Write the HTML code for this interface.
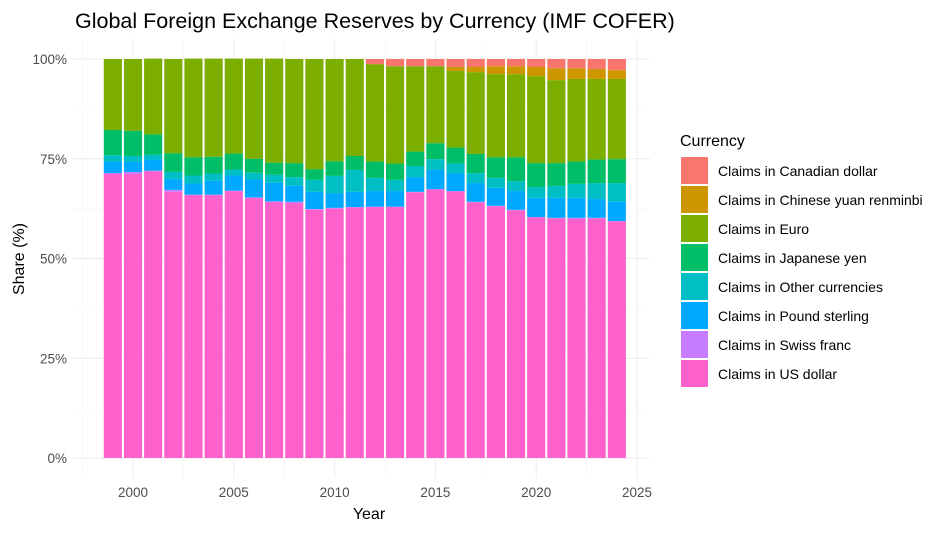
<!DOCTYPE html>
<html><head><meta charset="utf-8"><style>
body{margin:0;background:#fff;font-family:"Liberation Sans",sans-serif}
</style></head><body>
<svg id="c" width="951" height="532" xmlns="http://www.w3.org/2000/svg" font-family="Liberation Sans, sans-serif">
<text x="75" y="28" font-size="21.5" fill="#000">Global Foreign Exchange Reserves by Currency (IMF COFER)</text>
<g id="grid"></g>
<g id="bars"></g>
<g id="axes"></g>
<text x="369" y="519" font-size="16" text-anchor="middle">Year</text>
<text transform="translate(24,259) rotate(-90)" font-size="16" text-anchor="middle">Share (%)</text>
<g id="legend"><text x="680" y="146" font-size="16">Currency</text></g>
</svg>
<script>
const years=[1999,2000,2001,2002,2003,2004,2005,2006,2007,2008,2009,2010,2011,2012,2013,2014,2015,2016,2017,2018,2019,2020,2021,2022,2023,2024];
const usd=[71.3,71.2,71.9,66.7,65.9,65.9,66.9,65.2,64.2,63.9,62.2,62.5,62.8,62.9,62.9,66.6,67.3,66.8,64.1,63.1,62.1,60.3,60.1,60.0,60.1,59.3];
const chf=[0.1,0.5,0.1,0.5,0.1,0.1,0.1,0.1,0.1,0.3,0.2,0.2,0.1,0.1,0.1,0.1,0.1,0.1,0.1,0.1,0.1,0.1,0.1,0.2,0.1,0.1];
const gbp=[2.8,2.5,2.8,2.7,2.8,3.5,3.8,4.5,4.7,4.0,4.3,3.7,3.8,3.9,3.9,3.7,4.8,4.4,4.7,4.5,4.7,4.8,5.0,5.0,4.7,4.8];
const other=[1.7,1.5,1.2,1.8,2.0,1.8,1.5,1.7,2.0,2.2,3.0,4.3,5.5,3.3,2.8,2.8,2.7,2.5,2.5,2.5,2.5,2.7,3.0,3.5,4.0,4.7];
const jpy=[6.3,6.3,5.1,4.7,4.6,4.2,4.0,3.5,3.0,3.5,2.7,3.7,3.5,4.1,4.1,3.6,4.0,4.0,4.8,5.2,6.0,6.0,5.7,5.6,5.9,6.0];
const eur=[17.8,18.0,19.0,23.6,24.7,24.6,23.8,25.1,26.1,26.1,27.6,25.6,24.3,24.4,24.4,21.4,19.3,19.2,20.5,20.8,20.8,21.8,20.8,20.7,20.2,20.1];
const cny=[0,0,0,0,0,0,0,0,0,0,0,0,0,0,0,0,0,1.0,1.3,2.0,2.0,2.3,3.0,2.7,2.5,2.2];
const cad=[0,0,0,0,0,0,0,0,0,0,0,0,0,1.3,1.8,1.8,1.8,2.0,2.0,1.8,1.8,2.0,2.3,2.3,2.5,2.8];
const seriesNames=["Claims in US dollar","Claims in Swiss franc","Claims in Pound sterling","Claims in Other currencies","Claims in Japanese yen","Claims in Euro","Claims in Chinese yuan renminbi","Claims in Canadian dollar"];
const seriesColors=["#FF61CC","#C77CFF","#00A9FF","#00BFC4","#00BE67","#7CAE00","#CD9600","#F8766D"];
const seriesData=[usd,chf,gbp,other,jpy,eur,cny,cad];
const yTicks=[0,25,50,75,100];
const xTicks=[2000,2005,2010,2015,2020,2025];

const NS="http://www.w3.org/2000/svg";
const PL=72,PR=650,PT=39,PB=478;
const xs=y=>133+(y-2000)*20.16;
const ys=v=>458-v*3.99;
function mk(t,a,p){const e=document.createElementNS(NS,t);for(const k in a)e.setAttribute(k,a[k]);p.appendChild(e);return e;}
const grid=document.getElementById('grid'),bars=document.getElementById('bars'),axes=document.getElementById('axes'),leg=document.getElementById('legend');
for(let i=0;i<yTicks.length;i++){
  const v=yTicks[i];
  const l=mk('line',{x1:PL,x2:PR,y1:ys(v),y2:ys(v),stroke:'#ebebeb','stroke-width':1},grid);
  
  
  if(i<yTicks.length-1){const m=mk('line',{x1:PL,x2:PR,y1:ys(v+12.5),y2:ys(v+12.5),stroke:'#f3f3f3','stroke-width':0.6},grid);
  
  }
  const t=mk('text',{x:67,y:ys(v)+5,'font-size':13.5,'text-anchor':'end',fill:'#4d4d4d'},axes);t.textContent=v+'%';
  
  
}
for(let i=0;i<xTicks.length;i++){
  const v=xTicks[i];
  const l=mk('line',{x1:xs(v),x2:xs(v),y1:PT,y2:PB,stroke:'#ebebeb','stroke-width':1},grid);
  
  
  const m=mk('line',{x1:xs(v-2.5),x2:xs(v-2.5),y1:PT,y2:PB,stroke:'#f3f3f3','stroke-width':0.6},grid);
  
  
  const t=mk('text',{x:xs(v),y:497,'font-size':13.5,'text-anchor':'middle',fill:'#4d4d4d'},axes);t.textContent=v;
  
  
}
const bw=20.16*0.9;
years.forEach((yr,i)=>{
  let cum=0;
  seriesData.forEach((s,k)=>{
    const v=s[i];if(v<=0)return;
    const r=mk('rect',{x:xs(yr)-bw/2,y:ys(cum+v),width:bw,height:v*3.99,fill:seriesColors[k]},bars);
    
    
    cum+=v;
  });
});
const order=[7,6,5,4,3,2,1,0];
order.forEach((k,j)=>{
  const y=157+j*29;
  const r=mk('rect',{x:681,y:y,width:27,height:27,fill:seriesColors[k]},leg);
  
  
  const t=mk('text',{x:718,y:y+19,'font-size':14,fill:'#000'},leg);t.textContent=seriesNames[k];
  
  
});
</script>
</body></html>
